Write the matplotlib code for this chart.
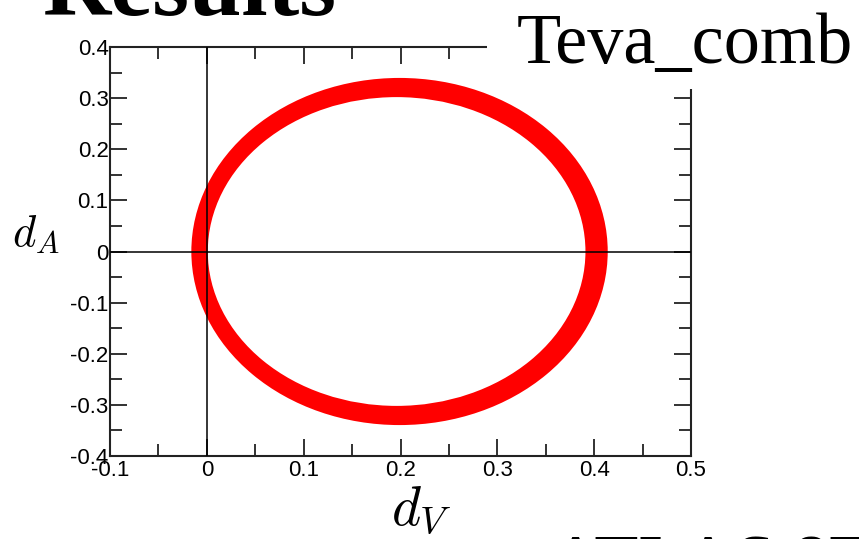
import matplotlib.pyplot as plt
from matplotlib.patches import Ellipse, Rectangle
from matplotlib.ticker import MultipleLocator, FuncFormatter

# ----------------------------
# Contour band in the (dV, dA) plane
# ----------------------------
outer_center = (0.199, 0.0)
outer_size = (0.430, 0.679)   # full width, full height
inner_center = (0.196, 0.0)
inner_size = (0.390, 0.604)

x_range = (-0.1, 0.5)
y_range = (-0.4, 0.4)
major_step = 0.1
minor_step = 0.05

title_text = "Results"
combo_label = "Teva_comb"
bottom_label = "ATLAS 8TeV"

plt.rcParams["mathtext.fontset"] = "cm"
plt.rcParams["axes.unicode_minus"] = False

fig = plt.figure(figsize=(8.59, 5.39), dpi=100)
ax = fig.add_axes([110 / 859, 83 / 539, 581 / 859, 409 / 539])

ax.add_patch(Ellipse(outer_center, outer_size[0], outer_size[1],
                     facecolor="red", edgecolor="none", zorder=1))
ax.add_patch(Ellipse(inner_center, inner_size[0], inner_size[1],
                     facecolor="white", edgecolor="none", zorder=2))

ax.axhline(0, color="black", linewidth=1.1, zorder=3)
ax.axvline(0, color="black", linewidth=1.1, zorder=3)

ax.set_xlim(*x_range)
ax.set_ylim(*y_range)

ax.xaxis.set_major_locator(MultipleLocator(major_step))
ax.xaxis.set_minor_locator(MultipleLocator(minor_step))
ax.yaxis.set_major_locator(MultipleLocator(major_step))
ax.yaxis.set_minor_locator(MultipleLocator(minor_step))

fmt = FuncFormatter(lambda v, pos: "0" if abs(v) < 1e-9 else f"{v:g}")
ax.xaxis.set_major_formatter(fmt)
ax.yaxis.set_major_formatter(fmt)

ax.tick_params(which="both", direction="in", top=True, right=True,
               width=1.3, color="#222222")
ax.tick_params(which="major", length=12, labelsize=16, pad=1)
ax.tick_params(axis="x", which="major", pad=3)
ax.tick_params(which="minor", length=8.5)
for lab in ax.get_xticklabels() + ax.get_yticklabels():
    lab.set_fontfamily("Liberation Sans")

for s in ax.spines.values():
    s.set_linewidth(1.5)
    s.set_color("#222222")

# axis labels
fig.text(12 / 859, (539 - 245) / 539, r"$d_A$", fontsize=32, ha="left", va="baseline")
fig.text(391 / 859, (539 - 525) / 539, r"$d_V$", fontsize=40, ha="left", va="baseline")

# slide text around the plot
fig.text(42 / 859, (539 - 15) / 539, title_text, fontsize=68,
         family="Liberation Serif", weight="bold", ha="left", va="baseline")

fig.add_artist(Rectangle((487 / 859, (539 - 89) / 539), 1, 1,
                         transform=fig.transFigure, facecolor="white",
                         edgecolor="none", zorder=5))
fig.text(517 / 859, (539 - 63) / 539, combo_label, fontsize=52,
         family="Liberation Serif", ha="left", va="baseline", zorder=6)
fig.text(550 / 859, (539 - 584) / 539, bottom_label, fontsize=52,
         family="Liberation Serif", ha="left", va="baseline", zorder=6)

fig.savefig("out.png", dpi=100)
